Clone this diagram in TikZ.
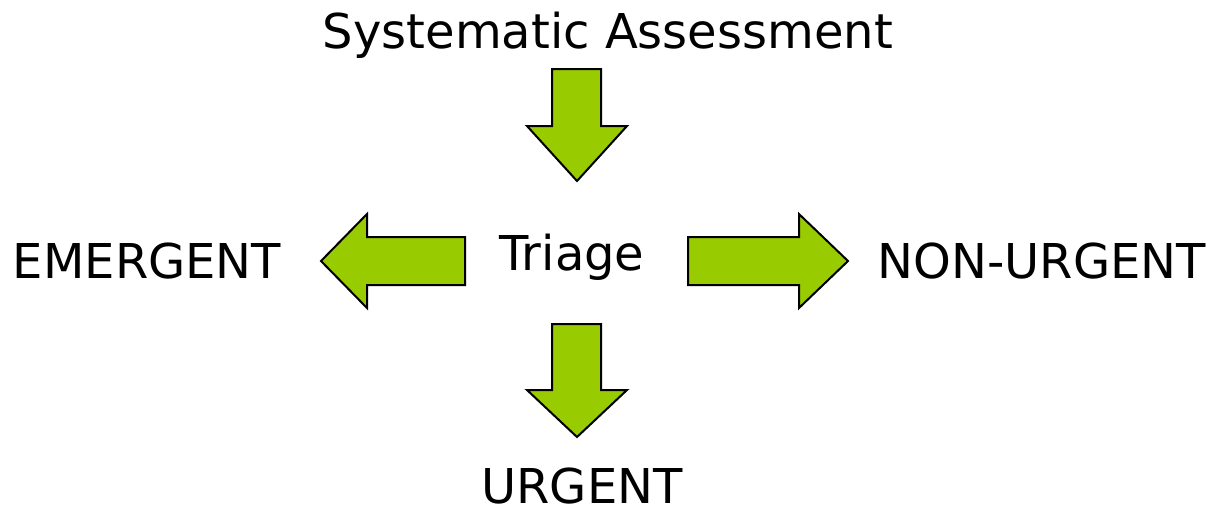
\documentclass[tikz,border=0pt]{standalone}
\usepackage{fontspec}
\setmainfont{DejaVu Sans}
\usetikzlibrary{backgrounds}

\definecolor{leafgreen}{HTML}{99CC00}

\tikzset{
  label/.style={font=\fontsize{24}{28}\selectfont, inner sep=0pt, anchor=base},
  blockarrow/.style={fill=leafgreen, draw=black, line width=1pt, line join=miter}
}

\begin{document}
\begin{tikzpicture}[x=0.5pt,y=-0.5pt]
\useasboundingbox (0,0) rectangle (1216,511);
% texts
\node[label] (assess) at (608,48) {Systematic Assessment};
\node[label] (triage) at (572,270) {Triage};
\node[label] (emergent) at (147,278) {EMERGENT};
\node[label] (nonurgent) at (1042,278) {NON-URGENT};
\node[label] (urgent) at (582,503) {URGENT};
% down arrow from top
\draw[blockarrow] (552,69) -- (601,69) -- (601,126) -- (627,126) -- (577,181) -- (527,126) -- (552,126) -- cycle;
% down arrow below
\draw[blockarrow] (552,324) -- (601,324) -- (601,390) -- (627,390) -- (577,437) -- (527,390) -- (552,390) -- cycle;
% left arrow
\draw[blockarrow] (465,237) -- (367,237) -- (367,214) -- (321,261) -- (367,308) -- (367,285) -- (465,285) -- cycle;
% right arrow
\draw[blockarrow] (688,237) -- (799,237) -- (799,214) -- (848,261) -- (799,308) -- (799,285) -- (688,285) -- cycle;
\end{tikzpicture}
\end{document}
